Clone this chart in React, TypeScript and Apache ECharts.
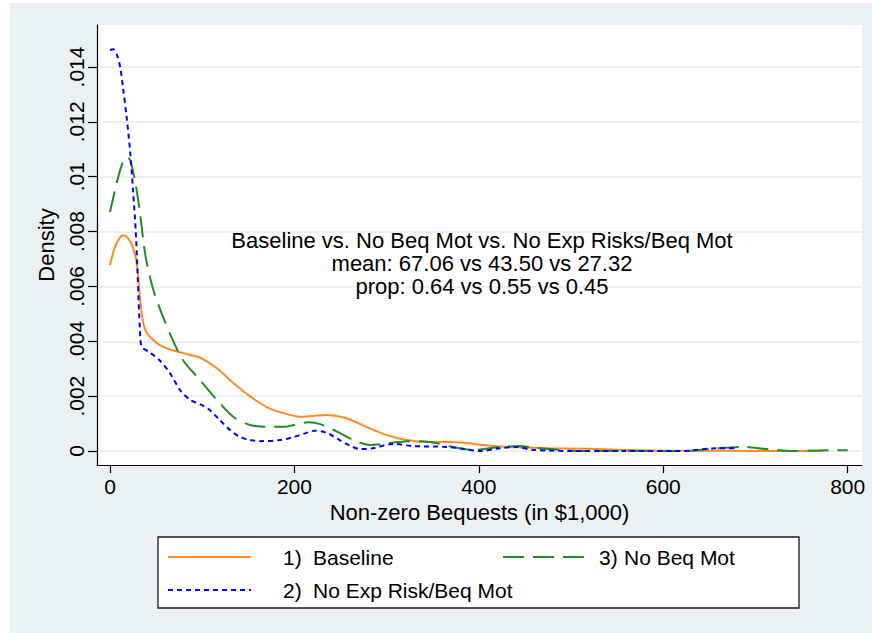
import React, { useEffect, useRef } from 'react';
import * as echarts from 'echarts';

const FONT = '"Liberation Sans", Arial, Helvetica, sans-serif';

const xTicks = [0, 200, 400, 600, 800];
const yTicks = [0, 0.002, 0.004, 0.006, 0.008, 0.01, 0.012, 0.014];

const seriesNames = ['Baseline', 'No Exp Risk/Beq Mot', 'No Beq Mot'];
const seriesNums = ['1)', '2)', '3)'];

const baselineX = [0, 5.4, 11, 14.5, 19.5, 24.6, 29, 32.5, 36, 40, 47, 54, 65, 76, 87, 98, 116, 134, 152, 170, 188, 206, 220, 235, 250, 260, 278, 300, 322, 343, 365, 387, 404, 423, 450, 477, 520, 550, 600, 650, 700, 773];
const baselineY = [0.00678, 0.00744, 0.0078, 0.00787, 0.00776, 0.00744, 0.00685, 0.0056, 0.00467, 0.0043, 0.00405, 0.00386, 0.0037, 0.0036, 0.0035, 0.0034, 0.00302, 0.00247, 0.00199, 0.0016, 0.00138, 0.00125, 0.00128, 0.00131, 0.00125, 0.00115, 0.00088, 0.00058, 0.0004, 0.00033, 0.00033, 0.00029, 0.00022, 0.00016, 0.00013, 0.0001, 0.00008, 0.00005, 0.00001, 0.00001, 0.0, 0.0];

const noExpX = [0, 3.5, 7.5, 11, 14, 18, 21.7, 25, 28, 30, 32.5, 34.5, 43, 54, 65, 76, 87, 98, 108, 119, 130, 141, 152, 163, 184, 198, 213, 222, 235, 249, 260, 271, 285, 307, 328, 365, 383, 401, 423, 441, 459, 513, 560, 621, 658, 680];
const noExpY = [0.01462, 0.01465, 0.01444, 0.014, 0.01327, 0.01218, 0.01097, 0.0095, 0.00795, 0.0064, 0.0044, 0.0038, 0.0036, 0.0033, 0.00284, 0.00222, 0.00186, 0.0017, 0.0015, 0.00113, 0.00077, 0.00051, 0.0004, 0.00036, 0.0004, 0.0005, 0.00066, 0.00074, 0.00066, 0.0004, 0.0002, 0.00007, 0.0001, 0.00026, 0.00018, 0.00015, 0.00008, 0.0, 0.0001, 0.00015, 0.00004, 0.0, 0.0, 0.0, 0.0001, 0.0001];

const noBeqX = [0, 5.4, 11, 16, 19, 21.7, 27, 32.5, 37, 40, 47, 57.5, 68, 79, 97.5, 116, 134, 152, 170, 188, 206, 215, 228, 249, 264, 282, 303, 325, 347, 372, 394, 423, 444, 466, 513, 621, 658, 686, 712, 740, 770, 800];
const noBeqY = [0.00871, 0.00951, 0.01024, 0.01068, 0.0107, 0.01061, 0.00988, 0.00868, 0.00744, 0.00685, 0.00587, 0.00489, 0.00405, 0.00332, 0.00259, 0.00186, 0.00124, 0.00095, 0.00088, 0.00088, 0.001, 0.00105, 0.00098, 0.00066, 0.0004, 0.00022, 0.00029, 0.00036, 0.00033, 0.00015, 0.00004, 0.00015, 0.00018, 0.0001, 0.0, 0.0, 0.0001, 0.00015, 0.00007, 0.0, 0.00002, 0.00003];

const annotationLines = [
  'Baseline vs. No Beq Mot vs. No Exp Risks/Beq Mot',
  'mean: 67.06 vs 43.50 vs 27.32',
  'prop: 0.64 vs 0.55 vs 0.45',
];

const pairs = (xs: number[], ys: number[]) => xs.map((x, i) => [x, ys[i]]);

export default function App() {
  const ref = useRef<HTMLDivElement>(null);
  useEffect(() => {
    if (!ref.current) return;
    const chart = echarts.init(ref.current, undefined, { renderer: 'svg' });
    const legendText = (padLeft: number, numWidth: number) => ({
      fontFamily: FONT,
      fontSize: 21,
      color: '#000',
      lineHeight: 22,
      padding: [0, 0, 0, padLeft],
      rich: {
        n: { width: numWidth, fontFamily: FONT, fontSize: 21, lineHeight: 22, color: '#000' },
        t: { fontFamily: FONT, fontSize: 21, lineHeight: 22, color: '#000' },
      },
    });
    const mkLegend = (idx: number, left: number, top: number, padLeft: number, numWidth: number) => ({
      show: true,
      data: [seriesNames[idx]],
      left,
      top,
      padding: 0,
      itemWidth: 83,
      itemHeight: 14,
      selectedMode: false,
      itemStyle: { opacity: 0 },
      formatter: (name: string) => `{n|${seriesNums[seriesNames.indexOf(name)]}}{t|${name}}`,
      textStyle: legendText(padLeft, numWidth),
    });
    const option: any = {
      animation: false,
      backgroundColor: '#ffffff',
      grid: {
        left: 97,
        top: 25,
        right: 10,
        bottom: 168,
        show: true,
        backgroundColor: '#ffffff',
        borderWidth: 0,
      },
      xAxis: {
        type: 'value',
        min: -14.1,
        max: 815.5,
        name: 'Non-zero Bequests (in $1,000)',
        nameLocation: 'middle',
        nameGap: 36,
        nameTextStyle: { fontFamily: FONT, fontSize: 22, color: '#000' },
        axisLine: { show: true, onZero: false, lineStyle: { color: '#000', width: 1.2 } },
        axisTick: { show: true, customValues: xTicks, length: 8, lineStyle: { color: '#000', width: 1.2 } },
        axisLabel: {
          customValues: xTicks,
          fontFamily: FONT,
          fontSize: 21,
          color: '#000',
          margin: 11,
        },
        splitLine: { show: false },
      },
      yAxis: {
        type: 'value',
        min: -0.00051,
        max: 0.015531,
        name: 'Density',
        nameLocation: 'middle',
        nameGap: 40,
        nameTextStyle: { fontFamily: FONT, fontSize: 22, color: '#000' },
        axisLine: { show: true, onZero: false, lineStyle: { color: '#000', width: 1.2 } },
        axisTick: { show: true, customValues: yTicks, length: 9, lineStyle: { color: '#000', width: 1.2 } },
        axisLabel: {
          customValues: yTicks,
          rotate: 90,
          fontFamily: FONT,
          fontSize: 21,
          color: '#000',
          margin: 10,
          formatter: (v: number) => (v === 0 ? '0' : String(+v.toFixed(3)).replace(/^0/, '')),
        },
        splitLine: { show: true, lineStyle: { color: '#E4ECEF', width: 1.5 } },
      },
      legend: [
        mkLegend(0, 167, 546, 27, 30),
        mkLegend(1, 167, 579, 27, 30),
        mkLegend(2, 502, 546, 8, 25),
      ],
      graphic: [
        {
          type: 'rect',
          z: -100,
          silent: true,
          shape: { x: 10, y: 3, width: 862, height: 630 },
          style: { fill: '#EAF1F3' },
        },
        {
          type: 'rect',
          z: 1,
          silent: true,
          shape: { x: 158, y: 537, width: 641, height: 71 },
          style: { fill: '#ffffff', stroke: '#1a1a1a', lineWidth: 1.3 },
        },
        {
          type: 'text',
          z: 10,
          silent: true,
          x: 482,
          y: 263,
          style: {
            text: annotationLines.join('\n'),
            fontFamily: FONT,
            fontSize: 22,
            lineHeight: 23,
            fill: '#000',
            align: 'center',
            verticalAlign: 'middle',
          },
        },
      ],
      series: [
        {
          name: seriesNames[0],
          type: 'line',
          data: pairs(baselineX, baselineY),
          showSymbol: false,
          symbol: 'none',
          smooth: 0.3,
          z: 3,
          lineStyle: { color: '#FF8A1F', width: 2 },
          itemStyle: { color: '#FF8A1F' },
        },
        {
          name: seriesNames[2],
          type: 'line',
          data: pairs(noBeqX, noBeqY),
          showSymbol: false,
          symbol: 'none',
          smooth: 0.3,
          z: 4,
          lineStyle: { color: '#228B22', width: 2, type: [21, 9] },
          itemStyle: { color: '#228B22' },
        },
        {
          name: seriesNames[1],
          type: 'line',
          data: pairs(noExpX, noExpY),
          showSymbol: false,
          symbol: 'none',
          smooth: 0.3,
          z: 5,
          lineStyle: { color: '#0000FF', width: 2, type: [5, 4] },
          itemStyle: { color: '#0000FF' },
        },
      ],
    };
    chart.setOption(option);
    return () => chart.dispose();
  }, []);
  return (
    <div
      ref={ref}
      style={{ position: 'absolute', left: 0, top: 0, width: 872, height: 633 }}
    />
  );
}
